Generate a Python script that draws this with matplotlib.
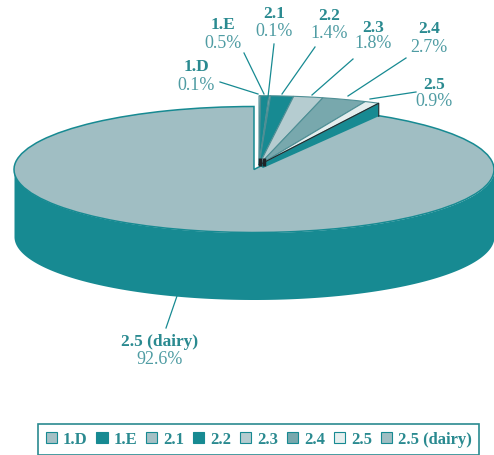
import numpy as np
import matplotlib
matplotlib.use('Agg')
import matplotlib.pyplot as plt

categorias = ['1.D', '1.E', '2.1', '2.2', '2.3', '2.4', '2.5', '2.5 (dairy)']
valores = [0.1, 0.5, 0.1, 1.4, 1.8, 2.7, 0.9, 92.6]
cores = ['#A5C0C5', '#178A92', '#A5C0C5', '#178A92', '#B5CCD0', '#78A8AD', '#E5EEEE', '#A0BEC3']

# posicoes dos textos em pixels: (x, y do nome, y do percentual)
pos_texto = [(196, 67, 85), (223, 25, 43), (274, 14, 31), (329, 16, 33),
             (373, 28, 44), (429, 29, 47), (434, 85, 102), (160, 342, 359)]
# linhas de chamada em pixels
chamadas = [((220, 82), (258, 94)), ((244, 53), (264, 94)), ((274, 44), (268, 97)),
            ((315, 47), (282, 94)), ((353, 59), (312, 95)), ((406, 58), (348, 96)),
            ((416, 92), (370, 99)), ((177, 296), (166, 328))]

TEAL = '#178A92'
W, H = 494, 455
cx, cy, rx, ry = 254, 169.5, 240, 63
altura = 67 / ry


def px(x, y):
    return (x - cx) / rx, (cy - y) / ry


plt.rcParams['font.family'] = ['Liberation Serif', 'DejaVu Serif']
fig = plt.figure(figsize=(W / 100, H / 100), dpi=100)
ax = fig.add_axes([0, 0, 1, 1])

wedges, _ = ax.pie(valores, colors=cores, startangle=90, counterclock=False,
                   radius=1, labels=categorias, labeldistance=None,
                   wedgeprops={'edgecolor': TEAL, 'linewidth': 1.1})
ax.set_aspect('auto')
ax.set_xlim(px(0, 0)[0], px(W, 0)[0])
ax.set_ylim(px(0, H)[1], px(0, 0)[1])

# parede lateral da pizza
t = np.radians(np.linspace(180, 360, 300))
ax.fill_between(np.cos(t), np.sin(t), np.sin(t) - altura, color=TEAL, lw=0, zorder=0.5)

# fatias pequenas deslocadas para cima
centro = px(259, 165)
raio = 1.1
for w in wedges[:7]:
    w.set_center(centro)
    w.set_radius(raio)
    w.set_zorder(3)
    w.set_edgecolor('#4F8F95')
    w.set_linewidth(0.8)

# lateral da ultima fatia pequena
ang = np.radians(wedges[6].theta1)
ponta = (centro[0] + raio * np.cos(ang), centro[1] + raio * np.sin(ang))
queda = 13 / ry
ax.fill([centro[0], ponta[0], ponta[0], centro[0] + 4 / rx],
        [centro[1], ponta[1], ponta[1] - queda, centro[1] - 3 / ry],
        color=TEAL, lw=0, zorder=2)
ax.plot([centro[0], ponta[0], ponta[0]], [centro[1], ponta[1], ponta[1] - queda],
        color='#1F2A2C', lw=0.8, zorder=3.5)
for x_esc in (259.5, 264):
    ax.plot(*zip(px(x_esc, 158), px(x_esc, 166)), color='#1F2226', lw=2.5,
            solid_capstyle='butt', zorder=4)

for (a, b) in chamadas:
    ax.plot(*zip(px(*a), px(*b)), color=TEAL, lw=0.9, zorder=5)

for nome, valor, (x, y1, y2) in zip(categorias, valores, pos_texto):
    ax.text(*px(x, y1), nome, ha='center', va='center', fontsize=12.5,
            fontweight='bold', color='#2A8A90', zorder=6)
    ax.text(*px(x, y2), f'{valor}%', ha='center', va='center', fontsize=13,
            color='#4F9CA3', zorder=6)

leg = ax.legend(wedges, categorias, ncol=8, loc='lower left',
                bbox_to_anchor=(38 / W, 0 / H), bbox_transform=fig.transFigure,
                fancybox=False, framealpha=1, edgecolor='#2A8A90',
                handlelength=0.68, handleheight=0.68, handletextpad=0.35,
                columnspacing=0.53, borderaxespad=0, borderpad=0.45,
                prop={'size': 12, 'weight': 'bold'}, labelcolor='#2A8A90')
leg.get_frame().set_linewidth(1.2)
for h in leg.legend_handles:
    h.set_edgecolor(TEAL)
    h.set_linewidth(0.8)

fig.savefig('out.png', dpi=100)
